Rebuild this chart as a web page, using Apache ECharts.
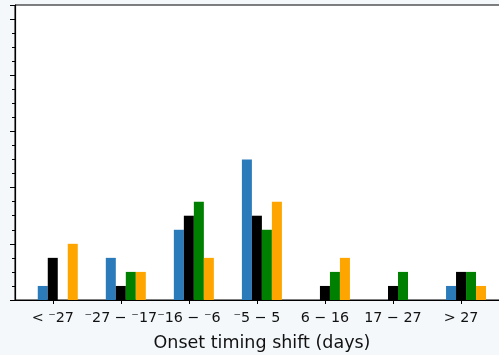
<!DOCTYPE html>
<html>
<head>
<meta charset="utf-8">
<script src="https://cdn.jsdelivr.net/npm/echarts@6/dist/echarts.min.js"></script>
<style>
html,body{margin:0;padding:0;background:#f4f8fb;}
#chart{width:499px;height:355px;}
</style>
</head>
<body>
<div id="chart"></div>
<script>
const categories = ['< \u207B27', '\u207B27 \u2212 \u207B17', '\u207B16 \u2212 \u207B6', '\u207B5 \u2212 5', '6 \u2212 16', '17 \u2212 27', '> 27'];
const blueValues   = [1, 3, 5, 10, 0, 0, 1];
const blackValues  = [3, 1, 6, 6, 1, 1, 2];
const greenValues  = [0, 2, 7, 5, 2, 2, 2];
const orangeValues = [4, 2, 3, 7, 3, 0, 1];
const yTicks = [0, 4, 8, 12, 16, 20];
const xTickPositions = [0, 1, 2, 3, 4, 5, 6];

const toPairs = arr => arr.map((v, i) => [i, v]);
const barBase = { type: 'bar', barWidth: 10, barGap: 0, animation: false, silent: true };

const chart = echarts.init(document.getElementById('chart'), null, { renderer: 'canvas' });
chart.setOption({
  backgroundColor: '#f4f8fb',
  animation: false,
  grid: { left: 15, top: 5, bottom: 55, right: -10, outerBoundsMode: 'none', containLabel: false, show: true, backgroundColor: '#ffffff', borderColor: '#000', borderWidth: 1 },
  xAxis: {
    type: 'value', min: -0.555, max: 6.705,
    splitLine: { show: false },
    axisLine: { show: true, onZero: false, lineStyle: { color: '#000', width: 1.2 } },
    axisTick: { show: true, length: 4, lineStyle: { color: '#000', width: 1 }, customValues: xTickPositions },
    axisLabel: { customValues: xTickPositions, formatter: v => categories[Math.round(v)], color: '#111', fontSize: 14.3, fontFamily: 'DejaVu Sans', margin: 11 },
    name: 'Onset timing shift (days)', nameLocation: 'middle', nameGap: 34,
    nameTextStyle: { color: '#111', fontSize: 17.5, fontFamily: 'DejaVu Sans' }
  },
  yAxis: {
    type: 'value', min: 0, max: 21, interval: 4,
    splitLine: { show: false },
    axisLine: { show: true, onZero: false, lineStyle: { color: '#000', width: 1.2 } },
    axisTick: { show: true, length: 5, lineStyle: { color: '#000', width: 1 } },
    minorTick: { show: true, splitNumber: 4, length: 3, lineStyle: { color: '#000', width: 1 } },
    axisLabel: { show: false }
  },
  series: [
    Object.assign({}, barBase, { name: 'pad', data: [] }),
    Object.assign({}, barBase, { name: 'blue', data: toPairs(blueValues), itemStyle: { color: '#2b7bba' } }),
    Object.assign({}, barBase, { name: 'black', data: toPairs(blackValues), itemStyle: { color: '#000000' } }),
    Object.assign({}, barBase, { name: 'green', data: toPairs(greenValues), itemStyle: { color: '#008000' } }),
    Object.assign({}, barBase, { name: 'orange', data: toPairs(orangeValues), itemStyle: { color: '#ffa500' } })
  ]
});
</script>
</body>
</html>
